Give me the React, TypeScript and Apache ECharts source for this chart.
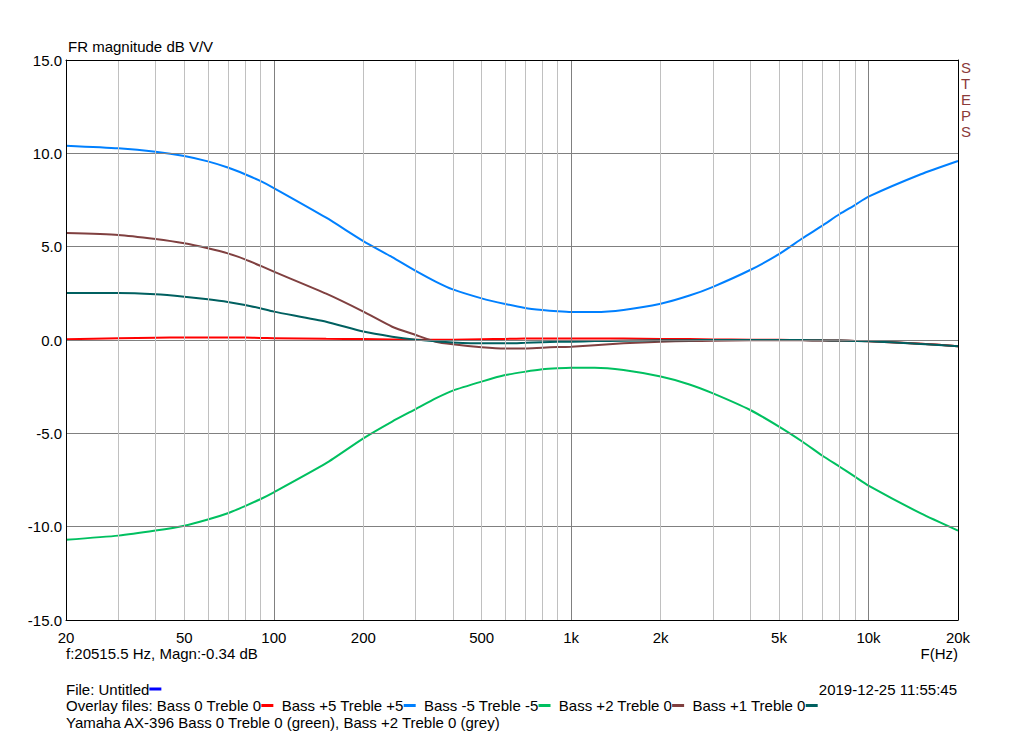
import React, { useEffect, useRef } from 'react';
import * as echarts from 'echarts';

// Frequencies (Hz) at which the curves were read
const freqs = [20, 30, 40, 50, 60, 70, 80, 90, 100, 150, 200, 250, 300, 350, 400, 500, 600, 700, 800, 900, 1000, 1200, 1500, 2000, 2500, 3000, 4000, 5000, 6000, 7000, 8000, 9000, 10000, 15000, 20000];

// dB values
const bass0treble0 = [0.04, 0.09, 0.12, 0.14, 0.14, 0.14, 0.13, 0.11, 0.1, 0.07, 0.05, 0.03, 0.02, 0.02, 0.02, 0.04, 0.06, 0.08, 0.08, 0.08, 0.08, 0.08, 0.08, 0.06, 0.05, 0.03, 0.02, 0.01, 0.0, -0.02, -0.03, -0.05, -0.07, -0.2, -0.33];
const bassP5trebleP5 = [10.41, 10.27, 10.09, 9.86, 9.57, 9.24, 8.88, 8.52, 8.14, 6.55, 5.3, 4.44, 3.7, 3.13, 2.71, 2.23, 1.93, 1.72, 1.61, 1.54, 1.5, 1.5, 1.61, 1.94, 2.38, 2.85, 3.75, 4.6, 5.45, 6.13, 6.75, 7.23, 7.68, 8.88, 9.59];
const bassM5trebleM5 = [-10.7, -10.48, -10.21, -9.95, -9.62, -9.28, -8.9, -8.53, -8.16, -6.6, -5.27, -4.37, -3.7, -3.13, -2.71, -2.23, -1.88, -1.7, -1.57, -1.51, -1.48, -1.48, -1.61, -1.96, -2.38, -2.86, -3.75, -4.64, -5.45, -6.2, -6.79, -7.32, -7.8, -9.29, -10.21];
const bassP2treble0 = [5.73, 5.63, 5.41, 5.18, 4.91, 4.64, 4.32, 3.98, 3.66, 2.48, 1.52, 0.71, 0.27, -0.09, -0.23, -0.39, -0.46, -0.45, -0.41, -0.38, -0.36, -0.28, -0.18, -0.09, -0.06, -0.04, -0.02, -0.01, -0.02, -0.03, -0.04, -0.05, -0.06, -0.2, -0.33];
const bassP1treble0 = [2.52, 2.52, 2.45, 2.32, 2.18, 2.04, 1.88, 1.7, 1.52, 0.98, 0.45, 0.18, 0.02, -0.07, -0.13, -0.18, -0.18, -0.15, -0.12, -0.1, -0.09, -0.06, -0.04, -0.02, -0.01, 0.0, 0.0, 0.0, 0.0, -0.02, -0.03, -0.05, -0.07, -0.21, -0.33];

// Axis grid / tick values
const majorGridFreqs = [100, 1000, 10000];
const minorGridFreqs = [30, 40, 50, 60, 70, 80, 90, 200, 300, 400, 500, 600, 700, 800, 900, 2000, 3000, 4000, 5000, 6000, 7000, 8000, 9000];
const xTickLabels = [20, 50, 100, 200, 500, 1000, 2000, 5000, 10000, 20000];

const FONT = '"Liberation Sans", Arial, sans-serif';
const FS = 15;

const fmtFreq = (v: number) => (v >= 1000 ? `${v / 1000}k` : `${v}`);

export default function App() {
  const ref = useRef<HTMLDivElement>(null);

  useEffect(() => {
    const chart = echarts.init(ref.current!, null, { renderer: 'svg' });

    const pair = (vals: number[]) => freqs.map((f, i) => [f, vals[i]]);

    const allGrid = Array.from(new Set([...xTickLabels, ...majorGridFreqs, ...minorGridFreqs])).sort((a, b) => a - b);
    const markData = allGrid.map((f) => {
      const isEdge = f === 20 || f === 20000;
      const isMajor = majorGridFreqs.includes(f);
      const labeled = xTickLabels.includes(f);
      return {
        xAxis: f,
        lineStyle: {
          color: isEdge ? 'rgba(0,0,0,0)' : isMajor ? '#808080' : '#c0c0c0',
          width: 1,
          type: 'solid',
        },
        label: {
          show: labeled,
          position: 'start',
          distance: 10,
          formatter: fmtFreq(f),
          color: '#000',
          fontSize: FS,
          fontFamily: FONT,
        },
      };
    });

    const lineSeries = (name: string, vals: number[], color: string, z: number) => ({
      name,
      type: 'line',
      data: pair(vals),
      showSymbol: false,
      symbol: 'none',
      smooth: 0.2,
      z,
      lineStyle: { color, width: 2 },
      itemStyle: { color },
    });

    const legendRich = {
      bl: { width: 12, height: 3, backgroundColor: '#0000ff' },
      r: { width: 12, height: 3, backgroundColor: '#ff0000' },
      b: { width: 12, height: 3, backgroundColor: '#0080ff' },
      g: { width: 12, height: 3, backgroundColor: '#00c060' },
      br: { width: 12, height: 3, backgroundColor: '#804040' },
      t: { width: 12, height: 3, backgroundColor: '#006060' },
    };

    const txt = (text: string, left: number | undefined, top: number, extra: any = {}) => ({
      type: 'text',
      left,
      top,
      ...extra,
      style: {
        text,
        font: `${FS}px ${FONT}`,
        fill: '#000',
        ...(extra.style || {}),
      },
    });

    const option: any = {
      animation: false,
      backgroundColor: '#fff',
      grid: { left: 66, right: 66, top: 60, bottom: 115, containLabel: false },
      xAxis: [
        {
          type: 'log',
          logBase: 10,
          min: 20,
          max: 20000,
          position: 'bottom',
          z: 5,
          axisLine: { show: true, onZero: false, lineStyle: { color: '#000', width: 1 } },
          axisTick: { show: false },
          axisLabel: { show: false },
          splitLine: { show: false },
        },
        {
          type: 'log',
          logBase: 10,
          min: 20,
          max: 20000,
          position: 'top',
          z: 5,
          axisLine: { show: true, onZero: false, lineStyle: { color: '#000', width: 1 } },
          axisTick: { show: false },
          axisLabel: { show: false },
          splitLine: { show: false },
        },
      ],
      yAxis: [
        {
          type: 'value',
          min: -15,
          max: 15,
          interval: 5,
          position: 'left',
          z: 5,
          axisLine: { show: true, onZero: false, lineStyle: { color: '#000', width: 1 } },
          axisTick: { show: false },
          axisLabel: {
            formatter: (v: number) => v.toFixed(1),
            color: '#000',
            fontSize: FS,
            fontFamily: FONT,
            margin: 4,
          },
          splitLine: { show: true, lineStyle: { color: '#808080', width: 1 } },
        },
        {
          type: 'value',
          min: -15,
          max: 15,
          interval: 5,
          position: 'right',
          z: 5,
          axisLine: { show: true, onZero: false, lineStyle: { color: '#000', width: 1 } },
          axisTick: { show: false },
          axisLabel: { show: false },
          splitLine: { show: false },
        },
      ],
      series: [
        {
          name: 'grid',
          type: 'line',
          data: [],
          z: 1,
          silent: true,
          markLine: {
            silent: true,
            symbol: ['none', 'none'],
            animation: false,
            data: markData,
          },
        },
        lineSeries('Bass 0 Treble 0', bass0treble0, '#ff0000', 3),
        lineSeries('Bass +5 Treble +5', bassP5trebleP5, '#0080ff', 3),
        lineSeries('Bass -5 Treble -5', bassM5trebleM5, '#00c060', 3),
        lineSeries('Bass +2 Treble 0', bassP2treble0, '#804040', 3),
        lineSeries('Bass +1 Treble 0', bassP1treble0, '#006060', 3),
      ],
      graphic: [
        txt('FR magnitude dB V/V', 68, 38.5),
        {
          type: 'text',
          left: 961,
          top: 59,
          style: {
            text: 'S\nT\nE\nP\nS',
            font: `${FS}px ${FONT}`,
            fill: '#8b3a3a',
            lineHeight: 16,
            align: 'center',
          },
        },
        txt('f:20515.5 Hz, Magn:-0.34 dB', 66, 646),
        txt('F(Hz)', undefined, 646, { right: 66 }),
        txt('2019-12-25 11:55:45', undefined, 681.5, { right: 67 }),
        {
          type: 'text',
          left: 66,
          top: 681.5,
          style: {
            text: 'File: Untitled{bl| }',
            font: `${FS}px ${FONT}`,
            fill: '#000',
            rich: legendRich,
          },
        },
        {
          type: 'text',
          left: 66,
          top: 698,
          style: {
            text: 'Overlay files: Bass 0 Treble 0{r| }  Bass +5 Treble +5{b| }  Bass -5 Treble -5{g| }  Bass +2 Treble 0{br| }  Bass +1 Treble 0{t| }',
            font: `${FS}px ${FONT}`,
            fill: '#000',
            rich: legendRich,
          },
        },
        txt('Yamaha AX-396 Bass 0 Treble 0 (green), Bass +2 Treble 0 (grey)', 66, 714.5),
      ],
    };

    chart.setOption(option);
    return () => chart.dispose();
  }, []);

  return <div ref={ref} style={{ position: 'fixed', left: 0, top: 0, width: 1024, height: 735 }} />;
}
